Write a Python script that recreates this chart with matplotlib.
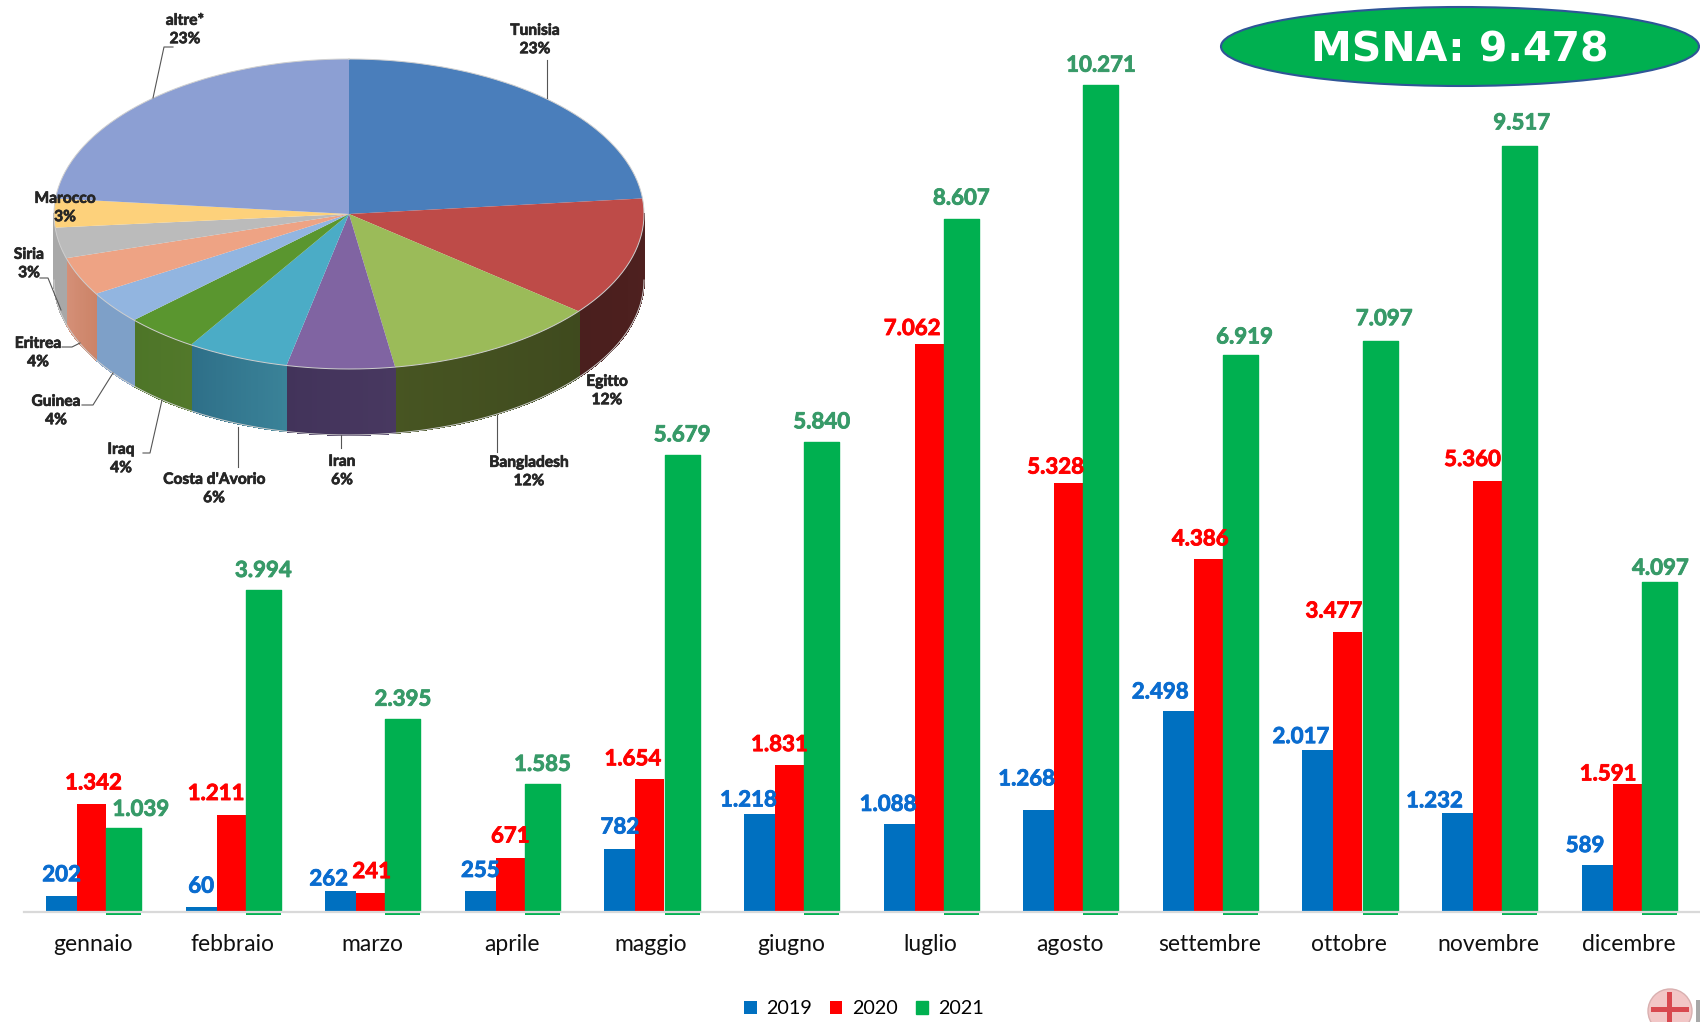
import numpy as np
import matplotlib.pyplot as plt
import matplotlib.patheffects as pe
from matplotlib.colors import to_rgb
from matplotlib.patches import Ellipse, Polygon, Circle, Rectangle

plt.rcParams['font.family'] = ['Lato', 'DejaVu Sans']

months = ['gennaio', 'febbraio', 'marzo', 'aprile', 'maggio', 'giugno', 'luglio',
          'agosto', 'settembre', 'ottobre', 'novembre', 'dicembre']
v2019 = [202, 60, 262, 255, 782, 1218, 1088, 1268, 2498, 2017, 1232, 589]
v2020 = [1342, 1211, 241, 671, 1654, 1831, 7062, 5328, 4386, 3477, 5360, 1591]
v2021 = [1039, 3994, 2395, 1585, 5679, 5840, 8607, 10271, 6919, 7097, 9517, 4097]

countries = ['Tunisia', 'Egitto', 'Bangladesh', 'Iran', "Costa d'Avorio", 'Iraq',
             'Guinea', 'Eritrea', 'Siria', 'Marocco', 'altre*']
shares = [23.4, 12.4, 11.7, 5.9, 5.6, 4, 3.4, 4, 3.2, 3, 23.4]  # slice sizes
share_labels = [23, 12, 12, 6, 6, 4, 4, 4, 3, 3, 23]
total_label = 'MSNA: 9.478'

# hand placed label offsets in pixels (dx from bar centre, dy above bar top)
off_2019 = [(0, 23), (0, 23), (-12, 14), (0, 23), (0, 24), (-11, 16), (-11, 22), (-12, 33),
            (-18, 21), (-17, 15), (-23, 14), (-12, 21)]
off_2020 = [(2, 23), (-15, 23), (1, 23), (0, 24), (-17, 22), (-10, 22), (-17, 17), (-13, 18),
            (-8, 22), (-14, 23), (-15, 23), (-19, 12)]
off_2021 = [(17, 21), (0, 22), (0, 22), (0, 22), (0, 22), (0, 22), (0, 23), (0, 22),
            (4, 20), (4, 24), (2, 25), (1, 16)]

BLUE, RED, GREEN = '#0070c0', '#ff0000', '#00b050'
W, H = 1700, 1022


def box(l, t, r, b):
    return [l / W, 1 - b / H, (r - l) / W, (b - t) / H]


fig = plt.figure(figsize=(17, 10.22), dpi=100)

# bars
ax = fig.add_axes(box(24, 0, 1700, 912))
step, first = 139.6, 93.75
ax.set_xlim((24 - first) / step, (1700 - first) / step)
ax.set_ylim(0, 912 / 0.0805)
x = np.arange(len(months))
pos_a, wid_a = x - 32.25 / step, 31 / step
pos_b, wid_b = x + (-2.25) / step, 29 / step
pos_c, wid_c = x + 30 / step, 35 / step
ax.bar(pos_a, v2019, wid_a, color=BLUE, label='2019', zorder=2)
ax.bar(pos_b, v2020, wid_b, color=RED, label='2020', zorder=2)
ax.bar(pos_c, v2021, wid_c, color=GREEN, label='2021', zorder=3,
       edgecolor=GREEN, linewidth=1, joinstyle='round')
ax.hlines([-30] * len(x), pos_c - wid_c / 2, pos_c + wid_c / 2, color=GREEN, lw=1.4, clip_on=False, zorder=2)

for spine in ['top', 'left', 'right']:
    ax.spines[spine].set_visible(False)
ax.spines['bottom'].set_color('#d9d9d9')
ax.spines['bottom'].set_linewidth(1.6)
ax.spines['bottom'].set_zorder(5)
ax.set_yticks([])
ax.set_xticks(x - 1 / step, months, fontsize=16.5, color='#111111')
ax.tick_params(axis='x', length=0, pad=16)
ax.patch.set_alpha(0)


def fmt(v):
    return f'{v:,}'.replace(',', '.')


for xs, vals, offs, col in [(pos_a, v2019, off_2019, '#0a6ccf'),
                            (pos_b, v2020, off_2020, '#ff0000'),
                            (pos_c, v2021, off_2021, '#379a68')]:
    for xi, v, (dx, dy) in zip(xs, vals, offs):
        ax.annotate(fmt(v), (xi, v), xytext=(dx, dy - 2), textcoords='offset pixels', ha='center',
                    va='center', fontsize=16, fontweight='bold', color=col, zorder=6,
                    path_effects=[pe.withStroke(linewidth=0.6, foreground=col)])

ax.legend(loc='center', bbox_to_anchor=((864 - 24) / 1676, -(1009 - 912) / 912), ncols=3, frameon=False,
          fontsize=14.2, handlelength=0.62, handleheight=0.62, handletextpad=0.5, columnspacing=0.9)

# pie, top face is an ordinary pie squashed by the axes box
pie_cols = ['#4a7ebb', '#be4b48', '#9bbb59', '#8064a2', '#4bacc6', '#5a962f',
            '#92b5e0', '#eea384', '#bbbbbb', '#fdd17b', '#8c9fd3']
side_left = ['#3a5f8c', '#4a1f1e', '#475522', '#42335a', '#2e6f88', '#4d7528',
             '#7ea0c8', '#d59078', '#a8a8a8', '#a8a8a8', '#7080b0']
side_right = ['#3a5f8c', '#4f201f', '#3f4a1e', '#483860', '#3a8298', '#52782a',
              '#7ea0c8', '#cc8468', '#a8a8a8', '#a8a8a8', '#7080b0']

pa = fig.add_axes(box(54, 59, 644, 369))
pa.pie(shares, colors=pie_cols, startangle=90, counterclock=False, radius=1,
       wedgeprops=dict(linewidth=0))
pa.set_aspect('auto')
pa.set_xlim(-1, 1)
pa.set_ylim(-1, 1)
pa.axis('off')

depth = 66 / 155
edges = np.cumsum([0] + shares) * 3.6
for i in range(len(shares)):
    a0, a1 = max(edges[i], 90), min(edges[i + 1], 270)
    if a1 <= a0:
        continue
    grid = np.linspace(a0, a1, int(a1 - a0) * 2 + 2)
    for g0, g1 in zip(grid[:-1], grid[1:]):
        t = (g0 - a0) / (a1 - a0)
        c = (1 - t) * np.array(to_rgb(side_right[i])) + t * np.array(to_rgb(side_left[i]))
        s0, c0, s1, c1 = np.sin(np.radians(g0)), np.cos(np.radians(g0)), np.sin(np.radians(g1)), np.cos(np.radians(g1))
        pa.add_patch(Polygon([(s0, c0), (s1, c1), (s1, c1 - depth), (s0, c0 - depth)], closed=True,
                             facecolor=c, edgecolor=c, lw=0.6, antialiased=False, clip_on=False, zorder=0))
th = np.radians(np.linspace(0, 360, 361))
pa.plot(np.sin(th), np.cos(th), color='#cfcfcf', lw=0.7, clip_on=False, zorder=3)
th = np.radians(np.linspace(90, 270, 181))
pa.plot(np.sin(th), np.cos(th) - depth, color='#cfcfcf', lw=0.7, clip_on=False, zorder=3)

# overlay in pixel coordinates: pie labels, leaders, badge, logo
ov = fig.add_axes([0, 0, 1, 1], zorder=10)
ov.set_xlim(0, W)
ov.set_ylim(H, 0)
ov.axis('off')

label_pos = [(535, 40), (607, 391), (529, 472), (342, 471), (214, 489), (121, 459),
             (56, 411), (38, 353), (29, 264), (65, 208), (185, 30)]
for name, share, (lx, ly) in zip(countries, share_labels, label_pos):
    ov.text(lx, ly, f'{name}\n{share}%', ha='center', va='center', fontsize=11.2, fontweight='bold',
            color='#262626', linespacing=1.4,
            path_effects=[pe.withStroke(linewidth=0.5, foreground='#262626')])

leaders = [[(547, 60), (547, 98)], [(497, 415), (497, 452)], [(341, 435), (341, 448)],
           [(238, 427), (238, 467)], [(143, 453), (150, 453), (162, 400)],
           [(82, 405), (93, 405), (113, 373)], [(62, 347), (72, 347), (80, 343)],
           [(40, 278), (48, 278), (61, 310)], [(173, 47), (164, 47), (153, 98)]]
for line in leaders:
    ov.plot(*zip(*line), color='#555555', lw=0.8)

ov.add_patch(Ellipse((1460, 46.5), 478, 79, facecolor=GREEN, edgecolor='#2f5597', lw=1.5))
ov.text(1460, 50, total_label, ha='center', va='center', color='white', fontsize=29.5,
        fontweight='bold', family='DejaVu Sans')

ov.add_patch(Circle((1670, 1011), 22, facecolor='#f2c6c6', edgecolor='#d9b0b0', lw=1))
ov.add_patch(Rectangle((1667, 992), 5, 30, facecolor='#d8484f'))
ov.add_patch(Rectangle((1651, 1007), 38, 5, facecolor='#d8484f'))
ov.add_patch(Rectangle((1696, 1000), 4, 22, facecolor='#a8a8a8'))

fig.savefig('out.png', dpi=100)
